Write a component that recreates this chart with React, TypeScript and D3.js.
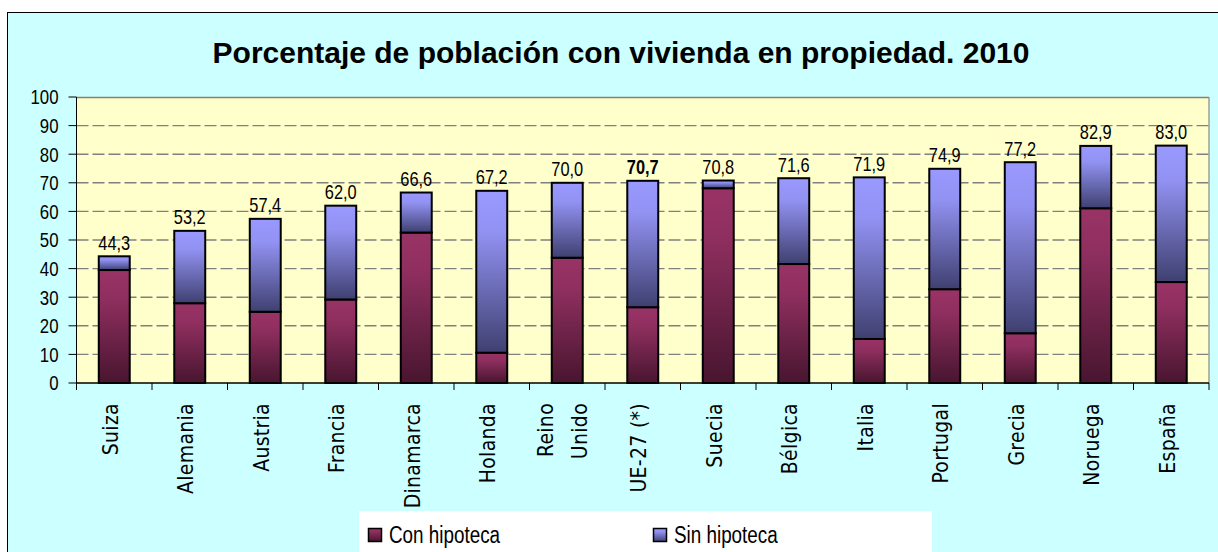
import React from "react";
import * as d3 from "d3";

const categories = ["Suiza", "Alemania", "Austria", "Francia", "Dinamarca", "Holanda", "Reino Unido", "UE-27 (*)", "Suecia", "Bélgica", "Italia", "Portugal", "Grecia", "Noruega", "España"];
const conHipoteca = [39.5, 27.9, 24.9, 29.2, 52.6, 10.6, 43.8, 26.5, 68.1, 41.6, 15.4, 32.8, 17.4, 61.1, 35.3];
const sinHipoteca = [4.8, 25.3, 32.5, 32.8, 14.0, 56.6, 26.2, 44.2, 2.7, 30.0, 56.5, 42.1, 59.8, 21.8, 47.7];
const totals = [44.3, 53.2, 57.4, 62.0, 66.6, 67.2, 70.0, 70.7, 70.8, 71.6, 71.9, 74.9, 77.2, 82.9, 83.0];
const yTicks = [0, 10, 20, 30, 40, 50, 60, 70, 80, 90, 100];
const seriesNames = ["Con hipoteca", "Sin hipoteca"];
const title = "Porcentaje de población con vivienda en propiedad. 2010";

const W = 1218, H = 552;
const plot = { left: 76.5, right: 1209, top: 97, bottom: 383 };
const narrow = "'Liberation Sans', Arial, sans-serif";
const squeeze = 0.82;
const labelFont = "'DejaVu Sans Condensed', 'DejaVu Sans', sans-serif";

export default function App() {
  const x = d3.scaleBand<string>()
    .domain(categories)
    .range([plot.left, plot.right])
    .paddingInner(0.59)
    .paddingOuter(0.295);
  const y = d3.scaleLinear().domain([0, 100]).range([plot.bottom, plot.top]);
  const step = x.step();
  const bw = x.bandwidth();
  const stack = d3.stack<number>().keys(["con", "sin"]).value((i, k) => (k === "con" ? conHipoteca[i] : sinHipoteca[i]));
  const series = stack(categories.map((_, i) => i));
  const fmt = (v: number) => d3.format(".1f")(v).replace(".", ",");
  const fills = ["url(#gCon)", "url(#gSin)"];
  const boundaries = d3.range(categories.length + 1).map((i) => plot.left + i * step);

  return (
    <svg width={W} height={H} style={{ position: "absolute", left: 0, top: 0 }}>
      <defs>
        <linearGradient id="gCon" x1="0" y1="0" x2="0" y2="1">
          <stop offset="0%" stopColor="#993366" />
          <stop offset="25%" stopColor="#8f2f5f" />
          <stop offset="100%" stopColor="#48152f" />
        </linearGradient>
        <linearGradient id="gSin" x1="0" y1="0" x2="0" y2="1">
          <stop offset="0%" stopColor="#9999ff" />
          <stop offset="25%" stopColor="#9292f3" />
          <stop offset="100%" stopColor="#3f4070" />
        </linearGradient>
      </defs>
      <rect x={0} y={0} width={W} height={H} fill="#ffffff" />
      <rect x={7.5} y={12.5} width={W + 20} height={H + 20} fill="#ccffff" stroke="#000" strokeWidth={1} />
      <text x={621} y={63} textAnchor="middle" fontFamily="'Liberation Sans', Arial, sans-serif" fontWeight="bold" fontSize={30} fill="#000">{title}</text>

      <rect x={plot.left} y={plot.top} width={plot.right - plot.left} height={plot.bottom - plot.top} fill="#ffffcc" />
      {yTicks.filter((t) => t > 0 && t < 100).map((t) => (
        <line key={"g" + t} x1={plot.left} x2={plot.right} y1={y(t)} y2={y(t)} stroke="#808080" strokeWidth={1.4} strokeDasharray="12,4" />
      ))}
      <line x1={plot.left} x2={plot.right} y1={plot.top + 0.5} y2={plot.top + 0.5} stroke="#8c8070" strokeWidth={1.3} />
      <line x1={plot.right} x2={plot.right} y1={plot.top} y2={plot.bottom} stroke="#909090" strokeWidth={1.3} />

      {series.map((s, si) => s.map((d, i) => (
        <rect key={si + "-" + i} x={x(categories[i])!} y={y(d[1])} width={bw} height={y(d[0]) - y(d[1])} fill={fills[si]} stroke="#000" strokeWidth={2} />
      )))}

      {totals.map((t, i) => (
        <text key={"l" + i} transform={`translate(${x(categories[i])! + bw / 2},${y(t) - 6.5}) scale(${squeeze},1)`} textAnchor="middle" fontFamily={narrow} fontSize={20} fontWeight={categories[i].startsWith("UE") ? "bold" : "normal"} fill="#000">{fmt(t)}</text>
      ))}

      <line x1={plot.left} x2={plot.left} y1={plot.top} y2={plot.bottom} stroke="#000" strokeWidth={1} />
      {yTicks.map((t) => (
        <g key={"y" + t}>
          <line x1={plot.left - 8} x2={plot.left} y1={y(t)} y2={y(t)} stroke="#000" strokeWidth={1} />
          <text transform={`translate(${plot.left - 18},${y(t)}) scale(${squeeze},1)`} dy="0.36em" textAnchor="end" fontFamily={narrow} fontSize={20.5} fill="#000">{t}</text>
        </g>
      ))}
      <line x1={plot.left} x2={plot.right} y1={plot.bottom} y2={plot.bottom} stroke="#000" strokeWidth={1.3} />
      {boundaries.map((bx, i) => (
        <line key={"t" + i} x1={bx} x2={bx} y1={plot.bottom} y2={plot.bottom + 7} stroke="#000" strokeWidth={1} />
      ))}
      {categories.map((c, i) => {
        const cx = x(c)! + bw / 2;
        const lines = c === "Reino Unido" ? ["Reino", "Unido"] : [c];
        const offs = lines.length === 2 ? [-14, 20] : [3.5];
        return lines.map((ln, li) => (
          <text key={c + li} transform={`translate(${cx + offs[li]},403) rotate(-90)`} textAnchor="end" fontFamily={labelFont} fontSize={21} letterSpacing={0.3} fill="#000">{ln}</text>
        ));
      })}

      <rect x={359} y={511} width={573} height={60} fill="#ffffff" />
      {seriesNames.map((n, i) => {
        const lx = i === 0 ? 368 : 653;
        return (
          <g key={n}>
            <rect x={lx + 0.5} y={528.5} width={13} height={13} fill={fills[i]} stroke="#000" strokeWidth={1.5} />
            <text transform={`translate(${lx + 21},543) scale(${squeeze},1)`} fontFamily={narrow} fontSize={23} fill="#000">{n}</text>
          </g>
        );
      })}
    </svg>
  );
}
